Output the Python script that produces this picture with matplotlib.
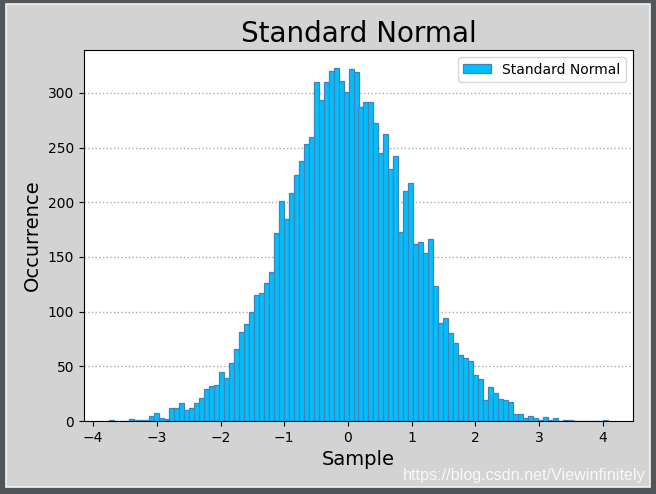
import numpy as np
import matplotlib
matplotlib.use("Agg")
import matplotlib.pyplot as plt
from matplotlib.patches import Rectangle

# histogram: 100 bins between the sample min and max
x_min, x_max = -3.75, 4.08
counts = [1, 0, 0, 0, 2, 1, 1, 1, 5, 7,
          3, 2, 12, 12, 16, 10, 12, 16, 21, 29,
          32, 33, 45, 39, 53, 66, 81, 89, 100, 115,
          117, 126, 136, 172, 201, 185, 208, 225, 238, 253,
          260, 310, 293, 310, 320, 323, 311, 301, 322, 319,
          287, 292, 292, 272, 245, 262, 230, 242, 173, 210,
          218, 162, 164, 154, 166, 123, 90, 94, 80, 71,
          60, 58, 55, 42, 38, 19, 31, 26, 20, 19,
          17, 6, 6, 3, 5, 3, 1, 4, 1, 3,
          0, 1, 1, 0, 0, 0, 0, 0, 0, 1]
edges = np.linspace(x_min, x_max, len(counts) + 1)
centers = (edges[:-1] + edges[1:]) / 2

W, H = 656, 494
fig = plt.figure(figsize=(W / 100, H / 100), dpi=100, facecolor="#50565a")
fig.patches.append(Rectangle((6 / W, (H - 487) / H), 644 / W, 483 / H,
                             transform=fig.transFigure, facecolor="lightgray",
                             edgecolor="#f2f2f2", lw=1.2, zorder=-1))

ax = fig.add_axes([84 / W, (H - 421) / H, 549 / W, 371 / H])
ax.hist(centers, bins=edges, weights=counts, color="deepskyblue",
        edgecolor="steelblue", linewidth=0.9, label="Standard Normal")
ax.grid(axis="y", ls=":", color="darkgray", lw=1)
ax.set_axisbelow(True)
ax.set_title("Standard Normal", fontsize=20)
ax.set_xlabel("Sample", fontsize=14)
ax.set_ylabel("Occurrence", fontsize=14)
ax.legend(loc="upper right", fontsize=10)

fig.text(646 / W, (H - 475) / H, "https://blog.csdn.net/Viewinfinitely",
         ha="right", va="center", fontsize=11.6, family="Liberation Sans",
         color="white", alpha=0.85)

fig.savefig("out.png", dpi=100, facecolor=fig.get_facecolor())
